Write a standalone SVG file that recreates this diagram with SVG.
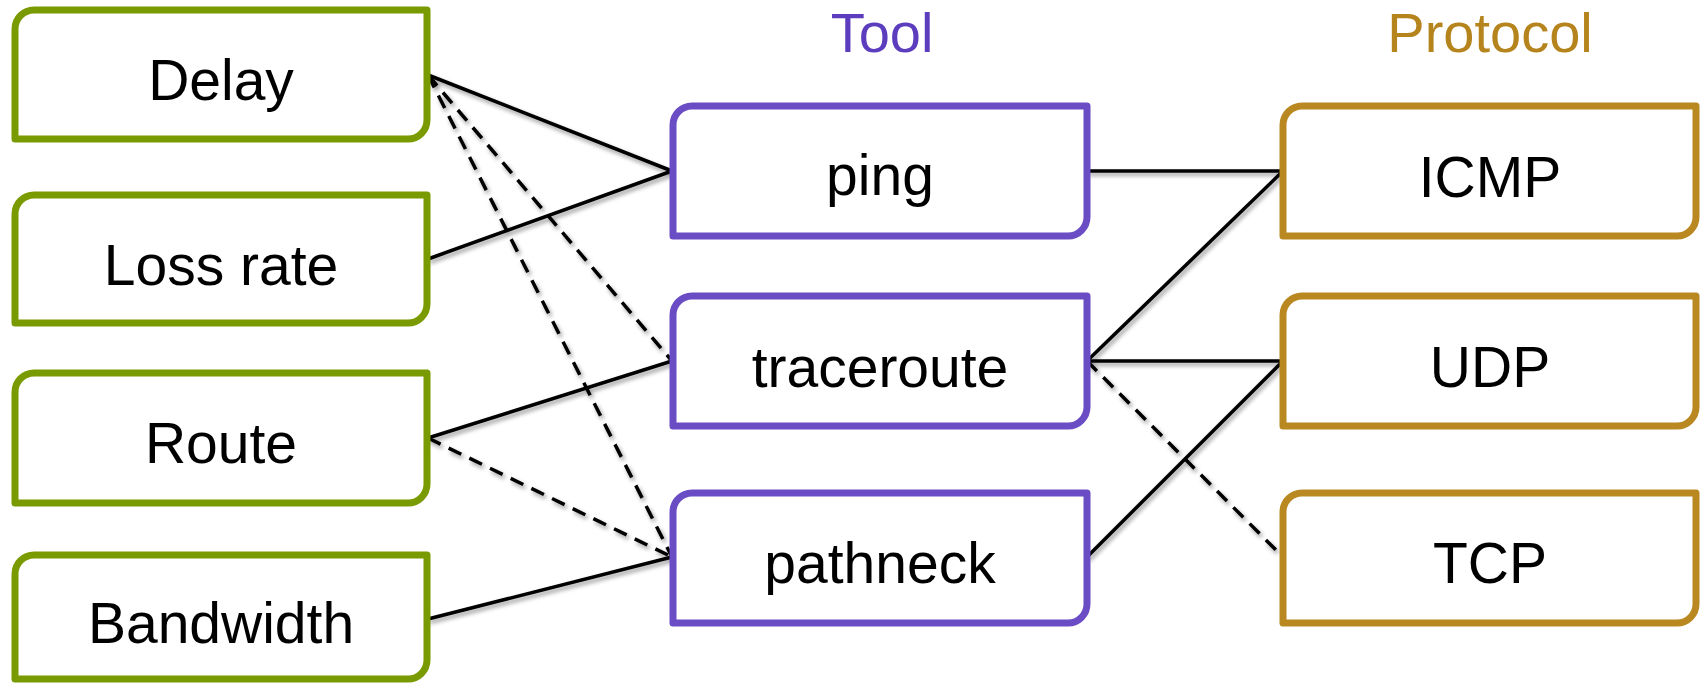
<svg xmlns="http://www.w3.org/2000/svg" width="1702" height="685" viewBox="0 0 1702 685">
  <style>
    .box { fill: #ffffff; stroke-width: 7; stroke-linejoin: round; }
    .metric { stroke: #7A9A01; }
    .tool { stroke: #6A4CC4; }
    .proto { stroke: #BA8820; }
    .label { font-family: "Liberation Sans", Arial, sans-serif; font-size: 57px; fill: #000000; text-anchor: middle; }
    .head { font-family: "Liberation Sans", Arial, sans-serif; font-size: 56px; text-anchor: middle; }
    .link { stroke: #000000; stroke-width: 3.5; fill: none; stroke-linecap: butt; }
    .dash { stroke-dasharray: 14 9; }
  </style>
  <defs>
    <filter id="soft-shadow" x="-10%" y="-10%" width="120%" height="120%">
      <feDropShadow dx="2" dy="3" stdDeviation="2" flood-color="#000000" flood-opacity="0.4"/>
    </filter>
  </defs>

  <rect width="1702" height="685" fill="#ffffff"/>

  <!-- column headings -->
  <text class="head" x="882" y="52" fill="#5B3DBE">Tool</text>
  <text class="head" x="1490" y="52" fill="#B5841C">Protocol</text>

  <!-- connectors -->
  <g id="connectors" filter="url(#soft-shadow)">
    <line class="link" x1="428" y1="75" x2="672" y2="171"/>
    <line class="link" x1="428" y1="259" x2="672" y2="171"/>
    <line class="link dash" x1="428" y1="75" x2="672" y2="361"/>
    <line class="link dash" x1="428" y1="75" x2="672" y2="557"/>
    <line class="link" x1="428" y1="438" x2="672" y2="361"/>
    <line class="link dash" x1="428" y1="438" x2="672" y2="557"/>
    <line class="link" x1="428" y1="619" x2="672" y2="557"/>
    <line class="link" x1="1087" y1="171" x2="1283" y2="171"/>
    <line class="link" x1="1087" y1="361" x2="1283" y2="171"/>
    <line class="link" x1="1087" y1="361" x2="1283" y2="361"/>
    <line class="link dash" x1="1087" y1="361" x2="1279" y2="553"/>
    <line class="link" x1="1087" y1="557" x2="1283" y2="361"/>
  </g>

  <!-- metrics -->
  <g id="node-delay">
    <path class="box metric" d="M15,29 A19,19 0 0 1 34,10 H427 V120 A19,19 0 0 1 408,139 H15 Z"/>
    <text class="label" x="221" y="100">Delay</text>
  </g>
  <g id="node-loss-rate">
    <path class="box metric" d="M15,214 A19,19 0 0 1 34,195 H427 V304 A19,19 0 0 1 408,323 H15 Z"/>
    <text class="label" x="221" y="285">Loss rate</text>
  </g>
  <g id="node-route">
    <path class="box metric" d="M15,392 A19,19 0 0 1 34,373 H427 V484 A19,19 0 0 1 408,503 H15 Z"/>
    <text class="label" x="221" y="463">Route</text>
  </g>
  <g id="node-bandwidth">
    <path class="box metric" d="M15,574 A19,19 0 0 1 34,555 H427 V660 A19,19 0 0 1 408,679 H15 Z"/>
    <text class="label" x="221" y="643">Bandwidth</text>
  </g>

  <!-- tools -->
  <g id="node-ping">
    <path class="box tool" d="M673,125 A19,19 0 0 1 692,106 H1087 V217 A19,19 0 0 1 1068,236 H673 Z"/>
    <text class="label" x="880" y="195">ping</text>
  </g>
  <g id="node-traceroute">
    <path class="box tool" d="M673,315 A19,19 0 0 1 692,296 H1087 V407 A19,19 0 0 1 1068,426 H673 Z"/>
    <text class="label" x="880" y="387">traceroute</text>
  </g>
  <g id="node-pathneck">
    <path class="box tool" d="M673,512 A19,19 0 0 1 692,493 H1087 V604 A19,19 0 0 1 1068,623 H673 Z"/>
    <text class="label" x="880" y="583">pathneck</text>
  </g>

  <!-- protocols -->
  <g id="node-icmp">
    <path class="box proto" d="M1283,125 A19,19 0 0 1 1302,106 H1696 V217 A19,19 0 0 1 1677,236 H1283 Z"/>
    <text class="label" x="1490" y="197">ICMP</text>
  </g>
  <g id="node-udp">
    <path class="box proto" d="M1283,315 A19,19 0 0 1 1302,296 H1696 V407 A19,19 0 0 1 1677,426 H1283 Z"/>
    <text class="label" x="1490" y="387">UDP</text>
  </g>
  <g id="node-tcp">
    <path class="box proto" d="M1283,512 A19,19 0 0 1 1302,493 H1696 V604 A19,19 0 0 1 1677,623 H1283 Z"/>
    <text class="label" x="1490" y="583">TCP</text>
  </g>
</svg>
